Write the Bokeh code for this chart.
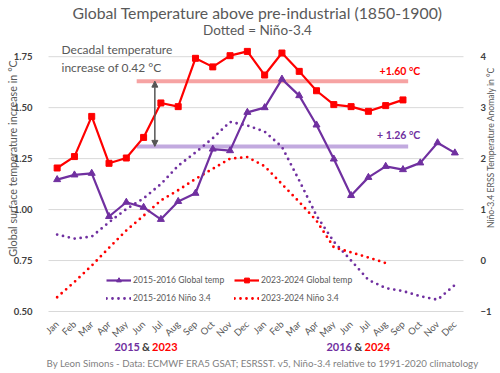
from math import pi
from bokeh.plotting import figure
from bokeh.models import (Range1d, LinearAxis, FixedTicker, Label, Legend, LegendItem,
                          Arrow, NormalHead, NumeralTickFormatter)
from bokeh.embed import file_html
from bokeh.resources import INLINE

# ---------------- data ----------------
months = ["Jan", "Feb", "Mar", "Apr", "May", "Jun", "Jul", "Aug", "Sep", "Oct", "Nov", "Dec"]
month_labels = months + months
x_idx = list(range(24))

global_2015_16 = [1.147, 1.170, 1.178, 0.966, 1.036, 1.011, 0.952, 1.040, 1.080, 1.297, 1.289, 1.477,
                  1.500, 1.640, 1.559, 1.415, 1.248, 1.069, 1.158, 1.212, 1.196, 1.229, 1.328, 1.278]
global_2023_24 = [1.204, 1.260, 1.457, 1.227, 1.253, 1.354, 1.523, 1.505, 1.742, 1.700, 1.755, 1.776,
                  1.660, 1.768, 1.678, 1.583, 1.515, 1.505, 1.482, 1.510, 1.538]
nino_2015_16 = [0.51, 0.43, 0.47, 0.75, 1.01, 1.22, 1.50, 1.86, 2.12, 2.40, 2.72, 2.65,
                2.53, 2.23, 1.57, 0.88, 0.37, 0.00, -0.38, -0.54, -0.60, -0.70, -0.77, -0.48]
nino_2023_24 = [-0.72, -0.42, -0.10, 0.25, 0.59, 0.88, 1.18, 1.38, 1.60, 1.80, 2.00, 2.03,
                1.85, 1.50, 1.15, 0.78, 0.26, 0.16, 0.06, -0.05]

left_ticks = [0.50, 0.75, 1.00, 1.25, 1.50, 1.75]
right_ticks = [-1, 0, 1, 2, 3, 4]

level_2023 = 1.63
level_2015 = 1.31
level_texts = ["+1.60 °C", "+ 1.26 °C"]
level_span = [4.6, 20.3]
arrow_x = 5.65

# ---------------- style / geometry ----------------
PURPLE = "#7030A0"
RED = "#FF0000"
PINK = "#F6A3A3"
LAVENDER = "#C2AADF"
GREY = "#595959"
DARK = "#404040"
FONT = "Lato"

W, H = 500, 373
FL, FR, FT, FB = 48, 463, 46, 311          # plot-area box in canvas pixels
X0, X1 = -0.5, 23.5                         # data x extent of plot area
Y0, Y1 = 0.5, 1.8                           # left axis extent
R0, R1 = -1.0, 4.2                          # right axis extent

kx = (FR - FL) / (X1 - X0)
ky = (FB - FT) / (Y1 - Y0)
kr = (FB - FT) / (R1 - R0)

x_rng = Range1d(X0 - FL / kx, X1 + (W - FR) / kx)
y_rng = Range1d(Y0 - (H - FB) / ky, Y1 + FT / ky)
r_rng = Range1d(R0 - (H - FB) / kr, R1 + FT / kr)


def sx(cx):
    return cx


def sy(cy):
    return H - cy


p = figure(width=W, height=H, x_range=x_rng, y_range=y_rng,
           output_backend="svg", toolbar_location=None,
           min_border=0, min_border_left=0, min_border_right=0, min_border_top=0, min_border_bottom=0)
p.title.visible = False
p.outline_line_color = None
p.background_fill_color = "white"
p.border_fill_color = "white"
p.xgrid.visible = False
p.ygrid.visible = False

p.extra_y_ranges = {"nino": r_rng}

# x axis (drawn at the bottom edge of the plot area)
xa = p.xaxis[0]
xa.fixed_location = Y0
xa.ticker = FixedTicker(ticks=x_idx)
xa.major_label_overrides = {i: month_labels[i] for i in x_idx}
xa.major_label_orientation = pi / 4
xa.axis_line_color = None
xa.major_tick_line_color = None
xa.minor_tick_line_color = None
xa.major_label_text_font = FONT
xa.major_label_text_font_size = "9.5px"
xa.major_label_text_color = GREY
xa.major_label_standoff = 5

# left axis
ya = p.yaxis[0]
ya.fixed_location = X0
ya.ticker = FixedTicker(ticks=left_ticks)
ya.formatter = NumeralTickFormatter(format="0.00")
ya.axis_line_color = None
ya.major_tick_line_color = None
ya.minor_tick_line_color = None
ya.major_label_text_font = FONT
ya.major_label_text_font_style = "bold"
ya.major_label_text_font_size = "9.5px"
ya.major_label_text_color = DARK
ya.major_label_standoff = 10

# right axis
ra = LinearAxis(y_range_name="nino", ticker=FixedTicker(ticks=right_ticks), fixed_location=X1)
ra.axis_line_color = None
ra.major_tick_line_color = None
ra.minor_tick_line_color = None
ra.major_label_text_font = FONT
ra.major_label_text_font_style = "bold"
ra.major_label_text_font_size = "9.5px"
ra.major_label_text_color = DARK
ra.major_label_standoff = 11
p.add_layout(ra, "right")

# horizontal grid lines at the left-axis ticks
p.segment(x0=[X0] * len(left_ticks), x1=[X1] * len(left_ticks), y0=left_ticks, y1=left_ticks,
          line_color="#D9D9D9", line_width=1)

# level bars
p.segment(x0=[level_span[0]] * 2, x1=[level_span[1]] * 2, y0=[level_2023, level_2015],
          y1=[level_2023, level_2015], line_color=[PINK, LAVENDER], line_width=4)

# Nino dotted lines
n15 = p.line(x_idx, nino_2015_16, y_range_name="nino", line_color=PURPLE, line_width=2.8,
             line_dash="0 6", line_cap="round")
n23 = p.line(x_idx[:len(nino_2023_24)], nino_2023_24, y_range_name="nino", line_color=RED,
             line_width=2.8, line_dash="0 6", line_cap="round")

# Global temperature lines
l15 = p.line(x_idx, global_2015_16, line_color=PURPLE, line_width=2.2)
s15 = p.scatter(x_idx, global_2015_16, marker="triangle", size=7, color=PURPLE)
l23 = p.line(x_idx[:len(global_2023_24)], global_2023_24, line_color=RED, line_width=2.2)
s23 = p.scatter(x_idx[:len(global_2023_24)], global_2023_24, marker="square", size=6, color=RED)

# arrow between levels
p.add_layout(Arrow(x_start=arrow_x, y_start=level_2015, x_end=arrow_x, y_end=level_2023,
                   line_color="#555555", line_width=1.5,
                   start=NormalHead(size=6, fill_color="#555555", line_color="#555555"),
                   end=NormalHead(size=6, fill_color="#555555", line_color="#555555")))

# level labels
p.add_layout(Label(x=21.0, y=level_2023 + 0.05, text=level_texts[0], text_align="right",
                   text_baseline="middle", text_font=FONT, text_font_style="bold",
                   text_font_size="10.5px", text_color=RED))
p.add_layout(Label(x=21.0, y=level_2015 + 0.055, text=level_texts[1], text_align="right",
                   text_baseline="middle", text_font=FONT, text_font_style="bold",
                   text_font_size="10.5px", text_color=PURPLE))

# decadal note
p.add_layout(Label(x=sx(61), y=sy(49), x_units="screen", y_units="screen",
                   text="Decadal temperature", text_align="left", text_baseline="middle",
                   text_font=FONT, text_font_size="12px", text_color=GREY))
p.add_layout(Label(x=sx(61), y=sy(67), x_units="screen", y_units="screen",
                   text="increase of 0.42 °C", text_align="left", text_baseline="middle",
                   text_font=FONT, text_font_size="12px", text_color=GREY))


# legends
def add_legend(label, renderers, cx, cy):
    lg = Legend(items=[LegendItem(label=label, renderers=renderers)],
                location=(sx(cx), sy(cy) - 6), border_line_color=None,
                background_fill_alpha=0, padding=0, margin=0, spacing=0,
                glyph_width=25, glyph_height=12, label_height=12, label_standoff=2,
                label_text_font=FONT, label_text_font_size="8.6px", label_text_color=GREY)
    p.add_layout(lg, "center")


add_legend("2015-2016 Global temp", [l15, s15], 106, 280)
add_legend("2023-2024 Global temp", [l23, s23], 234, 280)
add_legend("2015-2016 Niño 3.4", [n15], 106, 297.5)
add_legend("2023-2024 Niño 3.4", [n23], 234, 297.5)

# titles
p.add_layout(Label(x=sx(257), y=sy(12), x_units="screen", y_units="screen",
                   text="Global Temperature above pre-industrial (1850-1900)", text_align="center",
                   text_baseline="middle", text_font=FONT, text_font_size="15.8px", text_color=GREY))
p.add_layout(Label(x=sx(257), y=sy(29), x_units="screen", y_units="screen",
                   text="Dotted = Niño-3.4", text_align="center",
                   text_baseline="middle", text_font=FONT, text_font_size="13.5px", text_color=GREY))

# axis titles
p.add_layout(Label(x=sx(12), y=sy(158), x_units="screen", y_units="screen", angle=pi / 2,
                   text="Global surface temperature increase in °C", text_align="center",
                   text_baseline="middle", text_font=FONT, text_font_size="10.8px", text_color=GREY))
p.add_layout(Label(x=sx(490), y=sy(147), x_units="screen", y_units="screen", angle=pi / 2,
                   text="Niño-3.4 ERSS Temperature Anomaly in °C", text_align="center",
                   text_baseline="middle", text_font=FONT, text_font_size="8.6px", text_color=GREY))


# year labels
def year_label(text, cx, color, align):
    p.add_layout(Label(x=sx(cx), y=sy(346), x_units="screen", y_units="screen", text=text,
                       text_align=align, text_baseline="middle", text_font=FONT,
                       text_font_style="bold", text_font_size="11px", text_color=color))


year_label("2015", 139.5, PURPLE, "right")
year_label("&", 145.5, DARK, "center")
year_label("2023", 151.5, RED, "left")
year_label("2016", 351.5, PURPLE, "right")
year_label("&", 357.7, DARK, "center")
year_label("2024", 364, RED, "left")

# footer
p.add_layout(Label(x=sx(46), y=sy(362), x_units="screen", y_units="screen",
                   text="By Leon Simons - Data: ECMWF ERA5 GSAT; ESRSST. v5, Niño-3.4 relative to 1991-2020 climatology",
                   text_align="left", text_baseline="middle", text_font=FONT, text_font_size="9.7px",
                   text_color="#7F7F7F"))

open("out.html", "w").write(file_html(p, INLINE))
